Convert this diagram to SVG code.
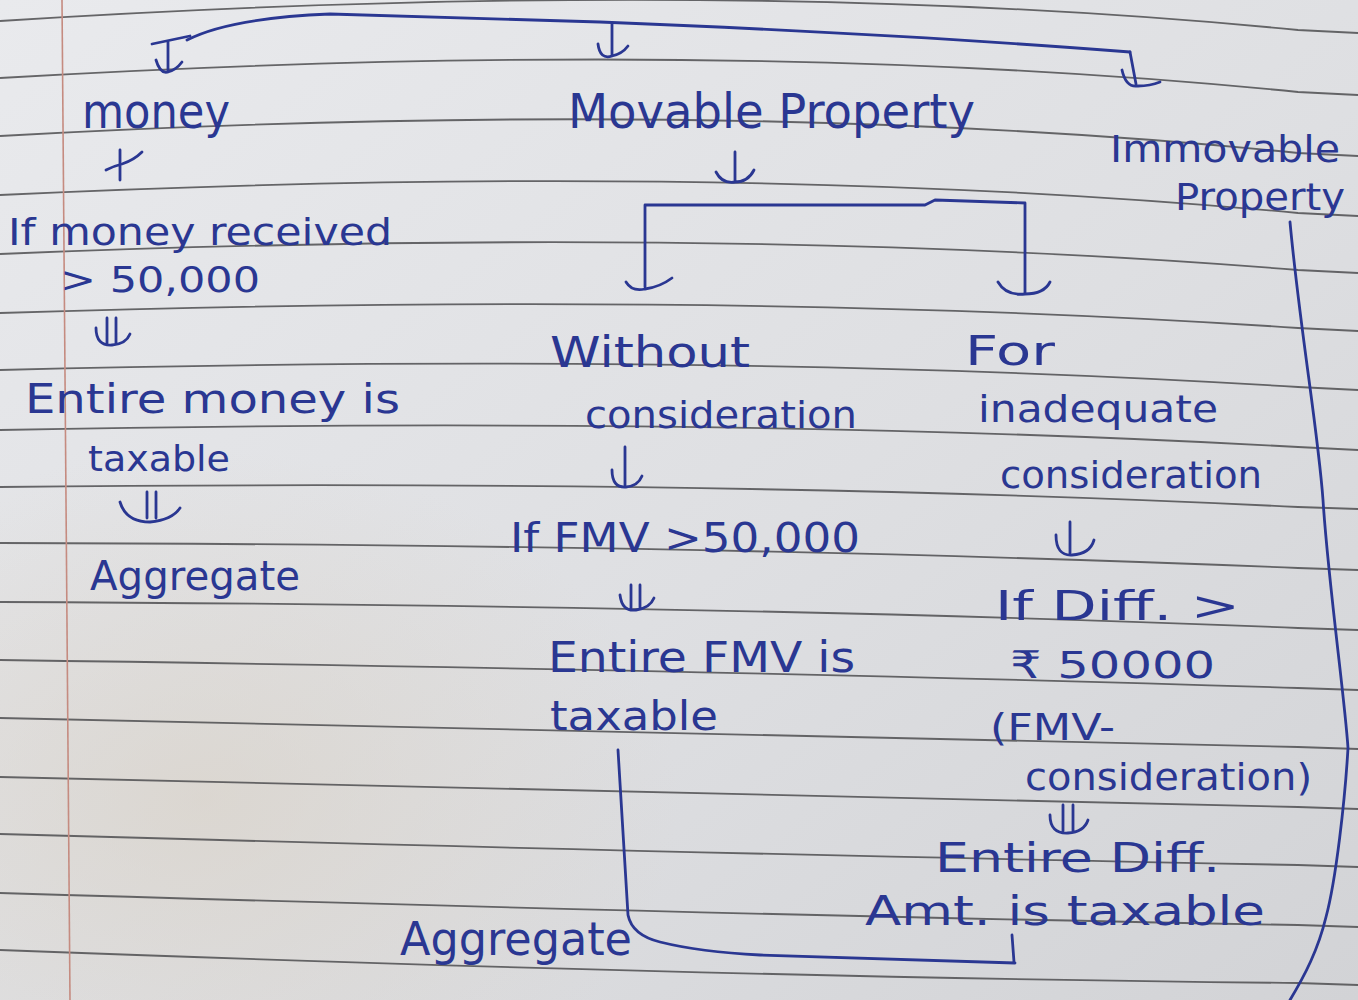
<svg xmlns="http://www.w3.org/2000/svg" width="1358" height="1000" viewBox="0 0 1358 1000">
<defs>
<linearGradient id="paper" x1="0" y1="0" x2="1" y2="1">
<stop offset="0" stop-color="#e9eaed"/>
<stop offset="0.55" stop-color="#dedfe2"/>
<stop offset="1" stop-color="#d2d3d6"/>
</linearGradient>
<radialGradient id="warm" cx="0.15" cy="0.8" r="0.35">
<stop offset="0" stop-color="#d8d0c4" stop-opacity="0.6"/>
<stop offset="1" stop-color="#d8d0c4" stop-opacity="0"/>
</radialGradient>
<style>
.rule{fill:none;stroke:#4d4d50;stroke-width:1.8;opacity:0.85}
.margin{fill:none;stroke:#c58b80;stroke-width:1.6}
.ink{fill:none;stroke:#2a3792;stroke-width:2.8;stroke-linecap:round;stroke-linejoin:round}
text{font-family:"DejaVu Sans","Noto Sans",sans-serif;fill:#2a3792}
</style>
</defs>
<rect width="1358" height="1000" fill="url(#paper)"/>
<rect width="1358" height="1000" fill="url(#warm)"/>
<g id="paper-lines">
<path class="rule" d="M0,21 Q731,-25.5 1298,30 L1358,33"/>
<path class="rule" d="M0,78 Q731,35 1298,92 L1358,95"/>
<path class="rule" d="M0,136 Q731,95.5 1298,153 L1358,156"/>
<path class="rule" d="M0,195 Q731,160 1298,213 L1358,216"/>
<path class="rule" d="M0,254 Q731,224 1298,270 L1358,273"/>
<path class="rule" d="M0,313 Q731,289.5 1298,328 L1358,331"/>
<path class="rule" d="M0,370 Q731,351.5 1298,387 L1358,390"/>
<path class="rule" d="M0,430 Q731,415.5 1298,447 L1358,450"/>
<path class="rule" d="M0,487 Q731,479 1298,507 L1358,509"/>
<path class="rule" d="M0,543 Q731,544.5 1298,568 L1358,570"/>
<path class="rule" d="M0,602 Q731,605 1298,628 L1358,630"/>
<path class="rule" d="M0,660 Q731,670 1298,688 L1358,690"/>
<path class="rule" d="M0,718 Q731,731.5 1298,747 L1358,749"/>
<path class="rule" d="M0,777 Q731,792 1298,807 L1358,809"/>
<path class="rule" d="M0,834 Q731,854.5 1298,865 L1358,867"/>
<path class="rule" d="M0,893 Q731,915 1298,925 L1358,927"/>
<path class="rule" d="M0,950 Q731,977.5 1298,983 L1358,985"/>
<line class="margin" x1="62" y1="0" x2="70" y2="1000"/>
</g>
<g id="connectors">
<path class="ink" d="M187,40 Q230,18 330,14 L600,22 Q900,34 1130,52"/>
<path class="ink" d="M152,44 L190,36 M168,42 L168,72 M156,60 Q160,74 168,72 Q176,70 182,62"/>
<path class="ink" d="M612,24 L612,56 M598,44 Q600,60 612,56 Q622,54 628,46"/>
<path class="ink" d="M1130,52 L1136,84 M1122,70 Q1126,88 1138,86 Q1150,86 1160,82"/>
<path class="ink" d="M120,150 L120,180 M106,170 Q114,166 122,164 Q134,160 142,152"/>
<path class="ink" d="M735,152 L735,182 M716,172 Q722,184 735,182 Q748,182 754,170"/>
<path class="ink" d="M645,287 L645,205 L925,205 L935,200 L1025,203 L1025,293"/>
<path class="ink" d="M626,282 Q632,292 645,289 Q660,287 672,278"/>
<path class="ink" d="M998,282 Q1006,296 1025,294 Q1044,294 1050,282"/>
<path class="ink" d="M107,318 L107,344 M116,318 L116,344 M96,328 Q96,346 112,345 Q126,344 130,334"/>
<path class="ink" d="M147,492 L147,518 M156,492 L156,518 M120,502 Q126,522 150,522 Q172,520 180,508"/>
<path class="ink" d="M625,447 L625,485 M612,470 Q612,488 626,487 Q638,486 642,476"/>
<path class="ink" d="M631,585 L631,608 M640,585 L640,608 M620,595 Q622,612 636,610 Q650,608 654,598"/>
<path class="ink" d="M1070,522 L1070,553 M1056,535 Q1056,556 1072,555 Q1090,554 1094,540"/>
<path class="ink" d="M1063,805 L1063,831 M1073,805 L1073,831 M1050,815 Q1050,834 1068,833 Q1084,832 1088,820"/>
<path class="ink" d="M1290,222 C1300,330 1318,430 1323,500 C1328,580 1345,700 1348,748 C1345,800 1336,880 1326,917 C1318,950 1305,975 1290,1000"/>
<path class="ink" d="M618,750 L628,915 Q632,935 660,942 Q700,952 760,955 L1015,963 M1012,935 L1014,962"/>
</g>
<g id="node-money"><text x="82" y="128" font-size="48" textLength="148" lengthAdjust="spacingAndGlyphs">money</text></g>
<g id="node-movable"><text x="568" y="128" font-size="48" textLength="407" lengthAdjust="spacingAndGlyphs">Movable Property</text></g>
<g id="node-immovable">
<text x="1110" y="162" font-size="38" textLength="230" lengthAdjust="spacingAndGlyphs">Immovable</text>
<text x="1175" y="210" font-size="38" textLength="170" lengthAdjust="spacingAndGlyphs">Property</text>
</g>
<g id="node-money-cond">
<text x="8" y="245" font-size="38" textLength="384" lengthAdjust="spacingAndGlyphs">If money received</text>
<text x="60" y="292" font-size="36" textLength="200" lengthAdjust="spacingAndGlyphs">&gt; 50,000</text>
</g>
<g id="node-money-taxable">
<text x="25" y="413" font-size="40" textLength="375" lengthAdjust="spacingAndGlyphs">Entire money is</text>
<text x="88" y="471" font-size="36" textLength="142" lengthAdjust="spacingAndGlyphs">taxable</text>
</g>
<g id="node-money-aggregate"><text x="90" y="590" font-size="40" textLength="210" lengthAdjust="spacingAndGlyphs">Aggregate</text></g>
<g id="node-without">
<text x="550" y="367" font-size="42" textLength="200" lengthAdjust="spacingAndGlyphs">Without</text>
<text x="585" y="428" font-size="38" textLength="272" lengthAdjust="spacingAndGlyphs">consideration</text>
</g>
<g id="node-fmv-cond"><text x="510" y="552" font-size="40" textLength="350" lengthAdjust="spacingAndGlyphs">If FMV &gt;50,000</text></g>
<g id="node-fmv-taxable">
<text x="548" y="672" font-size="42" textLength="307" lengthAdjust="spacingAndGlyphs">Entire FMV is</text>
<text x="550" y="730" font-size="40" textLength="168" lengthAdjust="spacingAndGlyphs">taxable</text>
</g>
<g id="node-inadequate">
<text x="965" y="365" font-size="40" textLength="90" lengthAdjust="spacingAndGlyphs">For</text>
<text x="978" y="422" font-size="38" textLength="240" lengthAdjust="spacingAndGlyphs">inadequate</text>
<text x="1000" y="488" font-size="38" textLength="262" lengthAdjust="spacingAndGlyphs">consideration</text>
</g>
<g id="node-diff-cond">
<text x="995" y="620" font-size="40" textLength="245" lengthAdjust="spacingAndGlyphs">If Diff. &gt;</text>
<text x="1010" y="678" font-size="38" textLength="205" lengthAdjust="spacingAndGlyphs">₹ 50000</text>
<text x="990" y="740" font-size="38" textLength="125" lengthAdjust="spacingAndGlyphs">(FMV-</text>
<text x="1025" y="790" font-size="38" textLength="287" lengthAdjust="spacingAndGlyphs">consideration)</text>
</g>
<g id="node-diff-taxable">
<text x="935" y="872" font-size="40" textLength="285" lengthAdjust="spacingAndGlyphs">Entire Diff.</text>
<text x="865" y="925" font-size="40" textLength="400" lengthAdjust="spacingAndGlyphs">Amt. is taxable</text>
</g>
<g id="node-aggregate"><text x="400" y="955" font-size="46" textLength="232" lengthAdjust="spacingAndGlyphs">Aggregate</text></g>
</svg>
